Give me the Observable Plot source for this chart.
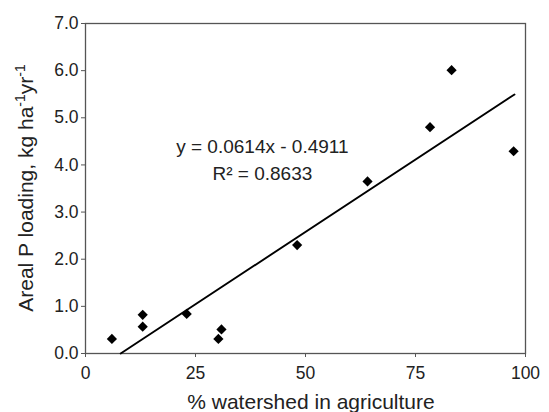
<!DOCTYPE html>
<html>
<head>
<meta charset="utf-8">
<script src="https://cdn.jsdelivr.net/npm/d3@7"></script>
<script src="https://cdn.jsdelivr.net/npm/@observablehq/plot@0.6"></script>
<style>
  html, body { margin: 0; padding: 0; background: #fff; }
  #chart svg { display: block; font-family: "Liberation Sans", Arial, sans-serif; }
</style>
</head>
<body>
<div id="chart"></div>
<script>
const agriculture = [6.0, 13.0, 13.0, 23.0, 30.2, 30.9, 48.1, 64.1, 78.3, 83.2, 97.3];
const loading     = [0.31, 0.82, 0.57, 0.84, 0.31, 0.51, 2.30, 3.65, 4.80, 6.01, 4.29];
const slope = 0.0614;
const intercept = -0.4911;
const fitRange = [-intercept / slope, 97.5];
const xTicks = [0, 25, 50, 75, 100];
const yTicks = [0, 1, 2, 3, 4, 5, 6, 7];
const equationLines = ["y = 0.0614x - 0.4911", "R² = 0.8633"];
const equationPos = [[40.2, 4.38], [40.2, 3.82]];

const points = agriculture.map((x, i) => ({x, y: loading[i]}));
const fit = fitRange.map(x => ({x, y: slope * x + intercept}));
const labels = equationLines.map((t, i) => ({t, x: equationPos[i][0], y: equationPos[i][1]}));

const W = 549, H = 412;
const chart = Plot.plot({
  width: W,
  height: H,
  marginLeft: 85,
  marginRight: 24,
  marginTop: 23,
  marginBottom: 59,
  style: {fontFamily: "Liberation Sans, Arial, sans-serif", fontSize: "17.5px", color: "#222"},
  x: {domain: [0, 100], ticks: xTicks, label: null},
  y: {domain: [0, 7], ticks: yTicks, tickFormat: d3.format(".1f"), label: null},
  marks: [
    Plot.frame({stroke: "#555", strokeWidth: 1.3}),
    Plot.axisX({ticks: xTicks, tickSize: 4, tickPadding: 9, fontSize: 17.5, stroke: "#555", label: null}),
    Plot.axisY({ticks: yTicks, tickSize: 4, tickPadding: 3, tickFormat: d3.format(".1f"), fontSize: 17.5, stroke: "#555", label: null}),
    Plot.line(fit, {x: "x", y: "y", stroke: "#000", strokeWidth: 1.9}),
    Plot.dot(points, {x: "x", y: "y", symbol: "diamond2", r: 4.6, fill: "#000", stroke: "none"}),
    Plot.text(labels, {x: "x", y: "y", text: "t", fontSize: 19, fill: "#222"})
  ]
});
document.getElementById("chart").appendChild(chart);

// Axis titles with superscripts
const svg = d3.select(chart);
svg.append("text")
  .attr("x", 311).attr("y", 409)
  .attr("text-anchor", "middle")
  .attr("font-size", 21)
  .attr("fill", "#222")
  .text("% watershed in agriculture");

const yl = svg.append("text")
  .attr("transform", "translate(33,188) rotate(-90)")
  .attr("text-anchor", "middle")
  .attr("font-size", 21)
  .attr("fill", "#222");
yl.append("tspan").text("Areal P loading, kg ha");
yl.append("tspan").attr("font-size", 14).attr("dy", -8).text("-1");
yl.append("tspan").attr("dy", 8).text("yr");
yl.append("tspan").attr("font-size", 14).attr("dy", -8).text("-1");
</script>
</body>
</html>
